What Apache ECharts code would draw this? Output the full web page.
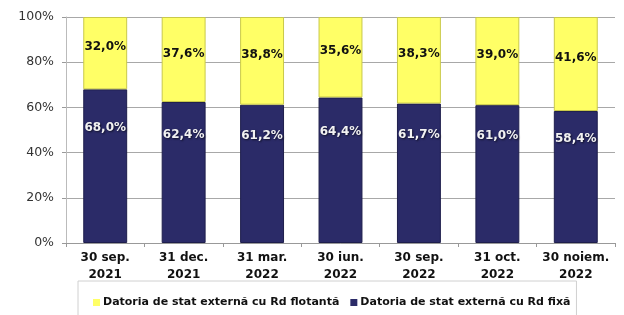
<!DOCTYPE html>
<html>
<head>
<meta charset="utf-8">
<script src="https://cdn.jsdelivr.net/npm/echarts@6/dist/echarts.min.js"></script>
<style>
  html, body { margin: 0; padding: 0; background: #fff; }
  #chart { width: 624px; height: 315px; }
</style>
</head>
<body>
<div id="chart"></div>
<script>
// categorii si valori (%)
const categories = ['30 sep.\n2021', '31 dec.\n2021', '31 mar.\n2022', '30 iun.\n2022', '30 sep.\n2022', '31 oct.\n2022', '30 noiem.\n2022'];
const fixa = [68.0, 62.4, 61.2, 64.4, 61.7, 61.0, 58.4];
const flotanta = [32.0, 37.6, 38.8, 35.6, 38.3, 39.0, 41.6];
const yTicks = [0, 20, 40, 60, 80, 100];

const numeFlot = 'Datoria de stat externă cu Rd flotantă';
const numeFix = 'Datoria de stat externă cu Rd fixă';

const fmt = p => p.value.toFixed(1).replace('.', ',') + '%';

const myChart = echarts.init(document.getElementById('chart'));

let option = {
  animation: false,
  textStyle: { fontFamily: 'DejaVu Sans' },
  grid: { left: 66, right: 9, top: 17, bottom: 72 },
  legend: {
    data: [numeFlot, numeFix],
    left: 78,
    top: 281,
    padding: [16, 6, 14, 15],
    borderColor: '#d0d0d0',
    borderWidth: 1,
    icon: 'rect',
    itemWidth: 7,
    itemHeight: 7,
    itemGap: 11,
    itemStyle: { borderWidth: 0 },
    textStyle: { fontSize: 11, fontWeight: 'bold', color: '#111', fontFamily: 'DejaVu Sans', padding: [0, 0, 0, -2] }
  },
  xAxis: {
    type: 'category',
    data: categories,
    axisLine: { lineStyle: { color: '#999' } },
    axisTick: { show: true, length: 4, lineStyle: { color: '#999' } },
    axisLabel: { interval: 0, fontSize: 12, fontWeight: 'bold', color: '#111', lineHeight: 17, margin: 6 }
  },
  yAxis: {
    type: 'value',
    min: yTicks[0],
    max: yTicks[yTicks.length - 1],
    interval: 20,
    axisLine: { show: true, lineStyle: { color: '#bbb' } },
    axisTick: { show: true, length: 4, lineStyle: { color: '#999' } },
    splitLine: { lineStyle: { color: '#a8a8a8' } },
    axisLabel: { fontSize: 12.5, color: '#333', margin: 12, formatter: '{value}%' }
  },
  series: [
    {
      name: numeFix,
      type: 'bar',
      stack: 'total',
      barWidth: '56%',
      data: fixa,
      itemStyle: { color: '#2b2b68', borderColor: '#1e1e4c', borderWidth: 1 },
      label: {
        show: true, position: 'inside', offset: [0, -38],
        formatter: fmt, fontSize: 12, fontWeight: 'bold', color: '#f2f2f2',
        textShadowColor: 'rgba(0,0,0,0.6)', textShadowBlur: 2, textShadowOffsetX: 1, textShadowOffsetY: 1
      }
    },
    {
      name: numeFlot,
      type: 'bar',
      stack: 'total',
      data: flotanta,
      itemStyle: { color: '#ffff66', borderColor: '#c9c94a', borderWidth: 1 },
      label: {
        show: true, position: 'inside', offset: [0, -6],
        formatter: fmt, fontSize: 12, fontWeight: 'bold', color: '#111'
      }
    }
  ]
};

myChart.setOption(option);
</script>
</body>
</html>
